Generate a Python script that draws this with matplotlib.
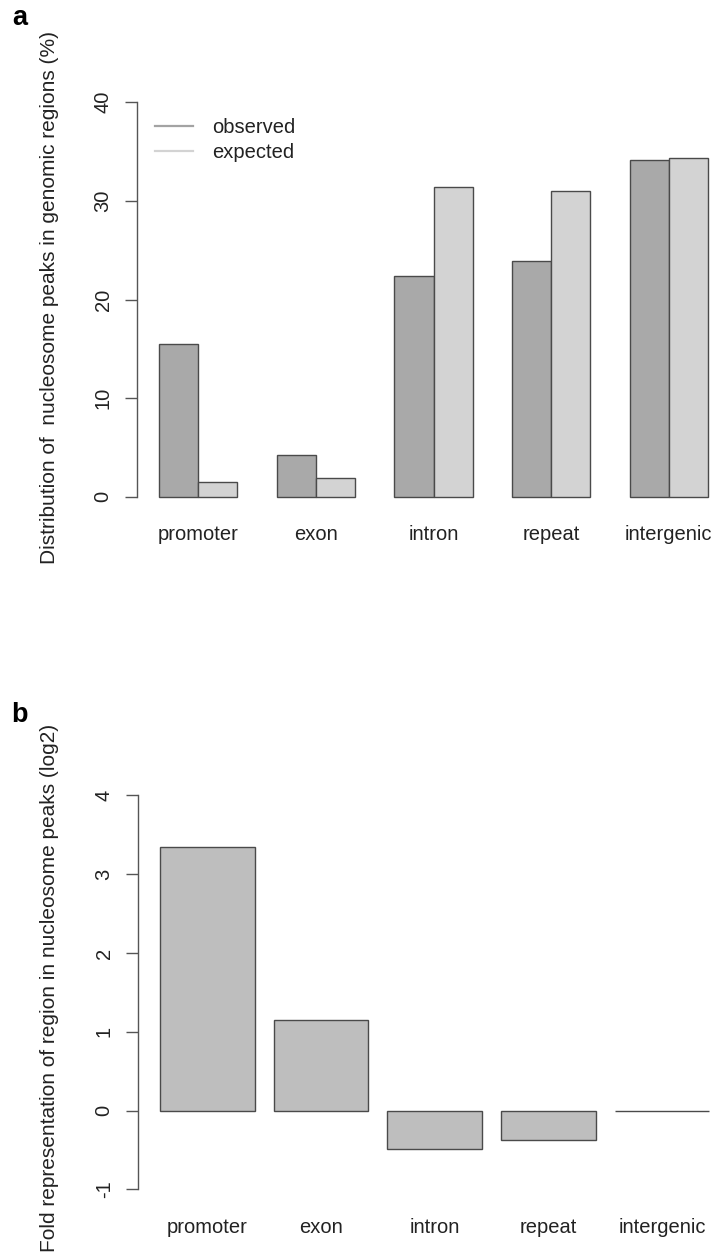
import matplotlib
matplotlib.use('Agg')
import matplotlib.pyplot as plt
import numpy as np

plt.rcParams['font.family'] = ['Liberation Sans', 'DejaVu Sans']

# data
regions = ['promoter', 'exon', 'intron', 'repeat', 'intergenic']
observed = [15.5, 4.2, 22.4, 23.9, 34.15]
expected = [1.5, 1.9, 31.4, 31.0, 34.35]
fold_log2 = [3.35, 1.155, -0.49, -0.372, -0.01]

ticks_a = [0, 10, 20, 30, 40]
ticks_b = [-1, 0, 1, 2, 3, 4]

W, H = 717, 1254
fig = plt.figure(figsize=(W / 100, H / 100), dpi=100)

def px_axes(left, top, right, bottom):
    # axes rectangle given in pixel coords of the output image
    return fig.add_axes([left / W, 1 - bottom / H, (right - left) / W, (bottom - top) / H])

edge = '#4a4a4a'
fs = 14.5

def style_axis(ax, ticks):
    for s in ['top', 'right', 'bottom']:
        ax.spines[s].set_visible(False)
    ax.spines['left'].set_bounds(ticks[0], ticks[-1])
    ax.spines['left'].set_color('#555555')
    ax.spines['left'].set_linewidth(1.0)
    ax.set_yticks(ticks)
    ax.set_yticklabels([str(t) for t in ticks], rotation=90, va='center')
    ax.tick_params(axis='y', length=8.5, width=1.0, color='#555555',
                   labelsize=fs, pad=9, labelcolor='#222222')
    ax.tick_params(axis='x', length=0, labelsize=fs, pad=9, labelcolor='#222222')

# ---- panel a ----
ax1 = px_axes(137, 86.5, 730, 512.5)
idx = np.arange(len(regions))
x_obs = 1.5 + 3 * idx
x_exp = 2.5 + 3 * idx
ax1.bar(x_obs, observed, width=1.0, color='#a9a9a9', edgecolor=edge, linewidth=1.0)
ax1.bar(x_exp, expected, width=1.0, color='#d3d3d3', edgecolor=edge, linewidth=1.0)
ax1.set_xlim(0.44, 15.56)
ax1.set_ylim(-1.6, 41.6)
ax1.set_xticks(2 + 3 * idx)
ax1.set_xticklabels(regions)
style_axis(ax1, ticks_a)

h1, = ax1.plot([], [], color='#a3a3a3', lw=1.6)
h2, = ax1.plot([], [], color='#d3d3d3', lw=1.6)
ax1.legend([h1, h2], ['observed', 'expected'], loc='upper left',
           bbox_to_anchor=((155 - 137) / 593, (512.5 - 118) / 426),
           frameon=False, fontsize=fs, handlelength=1.9, handletextpad=0.92,
           labelspacing=0.3, borderpad=0, borderaxespad=0, labelcolor='#222222')

fig.text(50 / W, 1 - 298 / H, 'Distribution of  nucleosome peaks in genomic regions (%)',
         rotation=90, ha='center', va='center', fontsize=15, color='#222222')
fig.text(12 / W, 1 - 25 / H, 'a', fontsize=19.5, fontweight='bold', ha='left', va='baseline')

# ---- panel b ----
ax2 = px_axes(138, 779.7, 731.3, 1205.1)
x_b = 0.7 + 1.2 * idx
ax2.bar(x_b, fold_log2, width=1.0, color='#bebebe', edgecolor=edge, linewidth=1.0)
ax2.set_xlim(-0.032, 6.232)
ax2.set_ylim(-1.2, 4.2)
ax2.set_xticks(x_b)
ax2.set_xticklabels(regions)
style_axis(ax2, ticks_b)

fig.text(50 / W, 1 - 988 / H, 'Fold representation of region in nucleosome peaks (log2)',
         rotation=90, ha='center', va='center', fontsize=15, color='#222222')
fig.text(11 / W, 1 - 721.7 / H, 'b', fontsize=19.5, fontweight='bold', ha='left', va='baseline')

fig.savefig('out.png', dpi=100)
